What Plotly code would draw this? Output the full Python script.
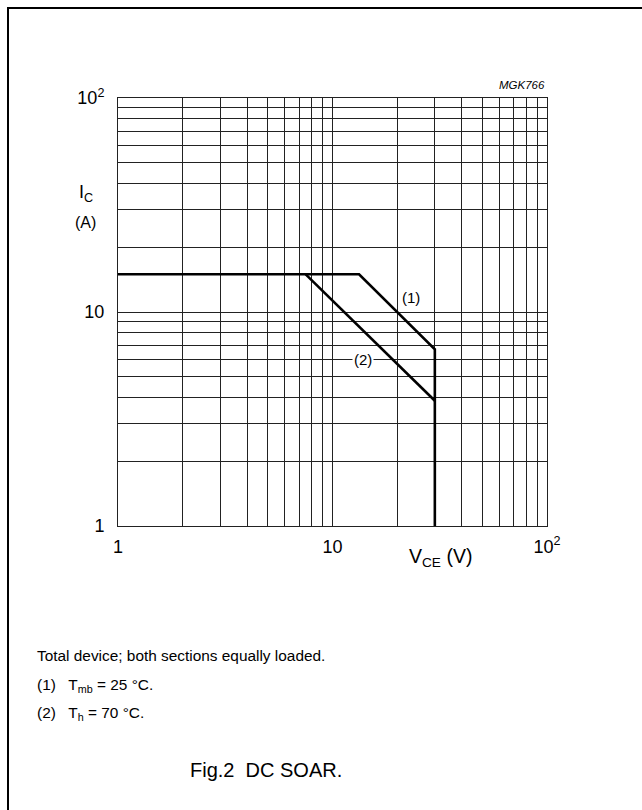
import math
import plotly.graph_objects as go

# ---- data ----
curve1_vce = [1, 13.3, 30, 30]
curve1_ic = [15, 15, 6.7, 1]
curve2_vce = [7.5, 30]
curve2_ic = [15, 3.85]

major_ticks = [1, 10, 100]
major_text = ["1", "10", "10<sup>2</sup>"]
minor_ticks = [2, 3, 4, 5, 6, 7, 8, 9, 20, 30, 40, 50, 60, 70, 80, 90]

label1_pos = (23.3, 11.7)
label2_pos = (13.9, 6.0)

W, H = 642, 810
L, R, T, B = 118, 95, 98, 284
PW, PH = W - L - R, H - T - B
FONT = "Liberation Sans, Arial, sans-serif"


def px(x):
    return (x - L) / PW


def py(y):
    return (H - B - y) / PH


fig = go.Figure()
fig.add_trace(go.Scatter(x=curve1_vce, y=curve1_ic, mode="lines",
                         line=dict(color="black", width=2.6), showlegend=False,
                         hoverinfo="skip"))
fig.add_trace(go.Scatter(x=curve2_vce, y=curve2_ic, mode="lines",
                         line=dict(color="black", width=2.6), showlegend=False,
                         hoverinfo="skip"))

axis_common = dict(
    type="log", range=[0, 2],
    tickmode="array", tickvals=major_ticks, ticktext=major_text,
    showgrid=True, gridcolor="#222222", gridwidth=1,
    showline=True, linecolor="#222222", linewidth=1, mirror=True,
    ticks="", zeroline=False,
    tickfont=dict(family=FONT, size=18, color="black"),
    minor=dict(tickmode="array", tickvals=minor_ticks, showgrid=True,
               gridcolor="#222222", gridwidth=1, ticks=""),
)
fig.update_xaxes(**axis_common, ticklabelstandoff=4)
fig.update_yaxes(**axis_common, ticklabelstandoff=9)


def note(x, y, text, size, xanchor="center", xref="paper", yref="paper", **kw):
    return dict(x=x, y=y, xref=xref, yref=yref, text=text, showarrow=False,
                xanchor=xanchor, yanchor="middle",
                font=dict(family=FONT, size=size, color="black"), **kw)


ann = [
    note(math.log10(label1_pos[0]), math.log10(label1_pos[1]), "(1)", 15,
         xref="x", yref="y"),
    note(math.log10(label2_pos[0]), math.log10(label2_pos[1]), "(2)", 15,
         xref="x", yref="y", bgcolor="white", borderpad=1),
    note(px(86), py(193), "I<sub>C</sub>", 18),
    note(px(85), py(223), "(A)", 16),
    note(px(440), py(557), "V<sub>CE</sub> (V)", 19.5),
    note(px(547), py(85), "<i>MGK766</i>", 11.5, xanchor="right"),
    note(px(35), py(655), "Total device; both sections equally loaded.", 15.4,
         xanchor="left"),
    note(px(35), py(685), "(1)   T<sub>mb</sub> = 25 °C.", 15.4, xanchor="left"),
    note(px(35), py(713), "(2)   T<sub>h</sub> = 70 °C.", 15.4, xanchor="left"),
    note(px(266), py(770), "Fig.2  DC SOAR.", 20),
]

shapes = [
    dict(type="line", xref="paper", yref="paper", x0=px(7), x1=px(650),
         y0=py(8), y1=py(8), line=dict(color="black", width=2)),
    dict(type="line", xref="paper", yref="paper", x0=px(8), x1=px(8),
         y0=py(7), y1=py(820), line=dict(color="black", width=2)),
]

fig.update_layout(
    width=W, height=H,
    margin=dict(l=L, r=R, t=T, b=B),
    paper_bgcolor="white", plot_bgcolor="white",
    annotations=ann, shapes=shapes,
    font=dict(family=FONT, color="black"),
    hovermode=False,
)

fig.write_html("out.html",
               config={"displayModeBar": False, "staticPlot": True},
               post_script="document.body.style.margin='0';"
                           "document.body.style.overflow='hidden';")
